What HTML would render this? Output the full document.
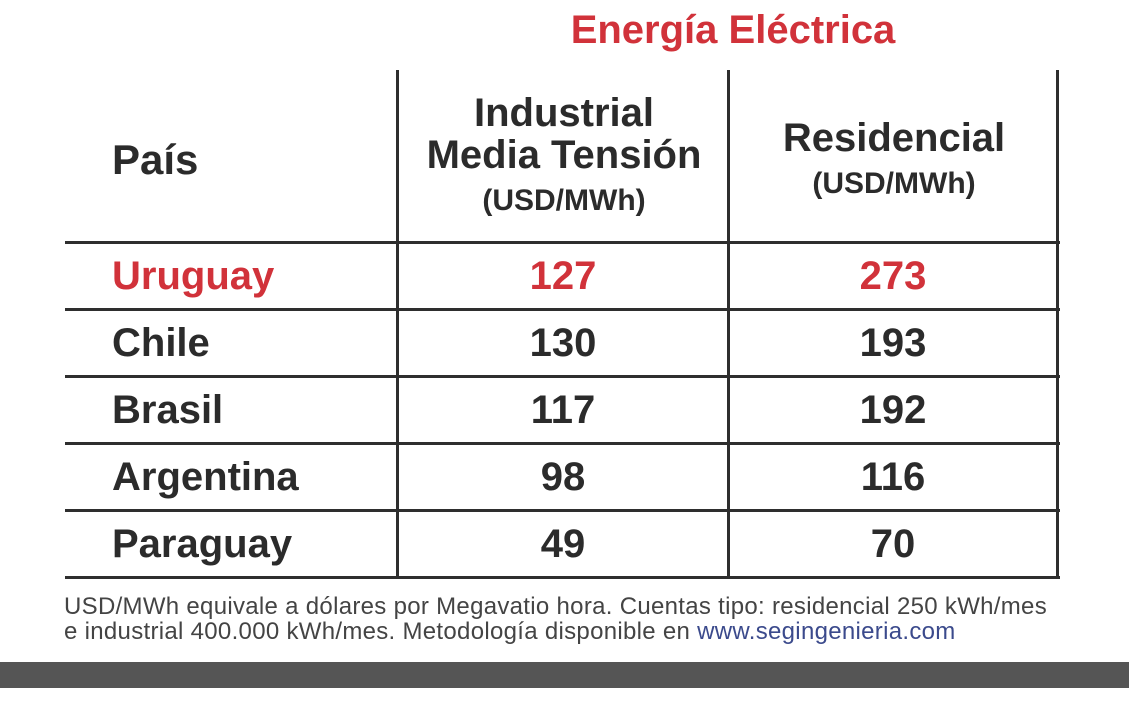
<!DOCTYPE html>
<html><head><meta charset="utf-8"><style>
body{margin:0;width:1133px;height:713px;background:#fff;position:relative;overflow:hidden;font-family:"Liberation Sans Narrow","Liberation Sans",sans-serif;font-weight:bold;color:#2b2b2b}
.a{position:absolute;white-space:nowrap}
.c{transform:translateX(-50%);text-align:center}
.v{position:absolute;width:3px;background:#2e2e2e;top:70px;height:509px}
.h{position:absolute;height:3px;background:#2e2e2e;left:65px;width:995px}
.cell{position:absolute;font-size:40px;line-height:40px;transform:translate(-50%,-50%)}
.lab{position:absolute;font-size:40px;line-height:40px;transform:translateY(-50%);left:112px}
.red{color:#d1323a}
</style></head><body>
<div class="a c red" style="left:733px;top:8px;font-size:40px">Energía Eléctrica</div>
<div class="v" style="left:396px"></div>
<div class="v" style="left:727px"></div>
<div class="v" style="left:1056px"></div>
<div class="a" style="left:112px;top:136px;font-size:42px">País</div>
<div class="a c" style="left:564px;top:92px;font-size:40px;line-height:42px">Industrial<br>Media Tensión<br><span style="font-size:30px;line-height:34px">(USD/MWh)</span></div>
<div class="a c" style="left:894px;top:117px;font-size:40px;line-height:42px">Residencial<br><span style="font-size:30px;line-height:34px">(USD/MWh)</span></div>
<div id="tbl"></div>
<div class="a" style="left:64px;top:594px;font-size:24px;line-height:25px;letter-spacing:0.3px;font-weight:normal;color:#444">USD/MWh equivale a dólares por Megavatio hora. Cuentas tipo: residencial 250 kWh/mes<br>e industrial 400.000 kWh/mes. Metodología disponible en <span style="color:#3b4a8c">www.segingenieria.com</span></div>
<div class="a" style="left:0;top:662px;width:1129px;height:26px;background:#555"></div>
<script>
const countries=["Uruguay","Chile","Brasil","Argentina","Paraguay"];
const industrial=[127,130,117,98,49];
const residencial=[273,193,192,116,70];
const t=document.getElementById('tbl');
const top0=242,rh=67;
for(let i=0;i<=countries.length;i++){
 const l=document.createElement('div');l.className='h';l.style.top=(top0+i*rh-1)+'px';
 
 
 t.appendChild(l);
}
countries.forEach((c,i)=>{
 const y=top0+i*rh+34;const red=i===0?' red':'';
 const a=document.createElement('div');a.className='lab'+red;a.style.top=y+'px';a.textContent=c;
 
 
 t.appendChild(a);
 const b=document.createElement('div');b.className='cell'+red;b.style.left='563px';b.style.top=y+'px';b.textContent=industrial[i];
 
 
 t.appendChild(b);
 const d=document.createElement('div');d.className='cell'+red;d.style.left='893px';d.style.top=y+'px';d.textContent=residencial[i];
 
 
 t.appendChild(d);
});
</script>
</body></html>
